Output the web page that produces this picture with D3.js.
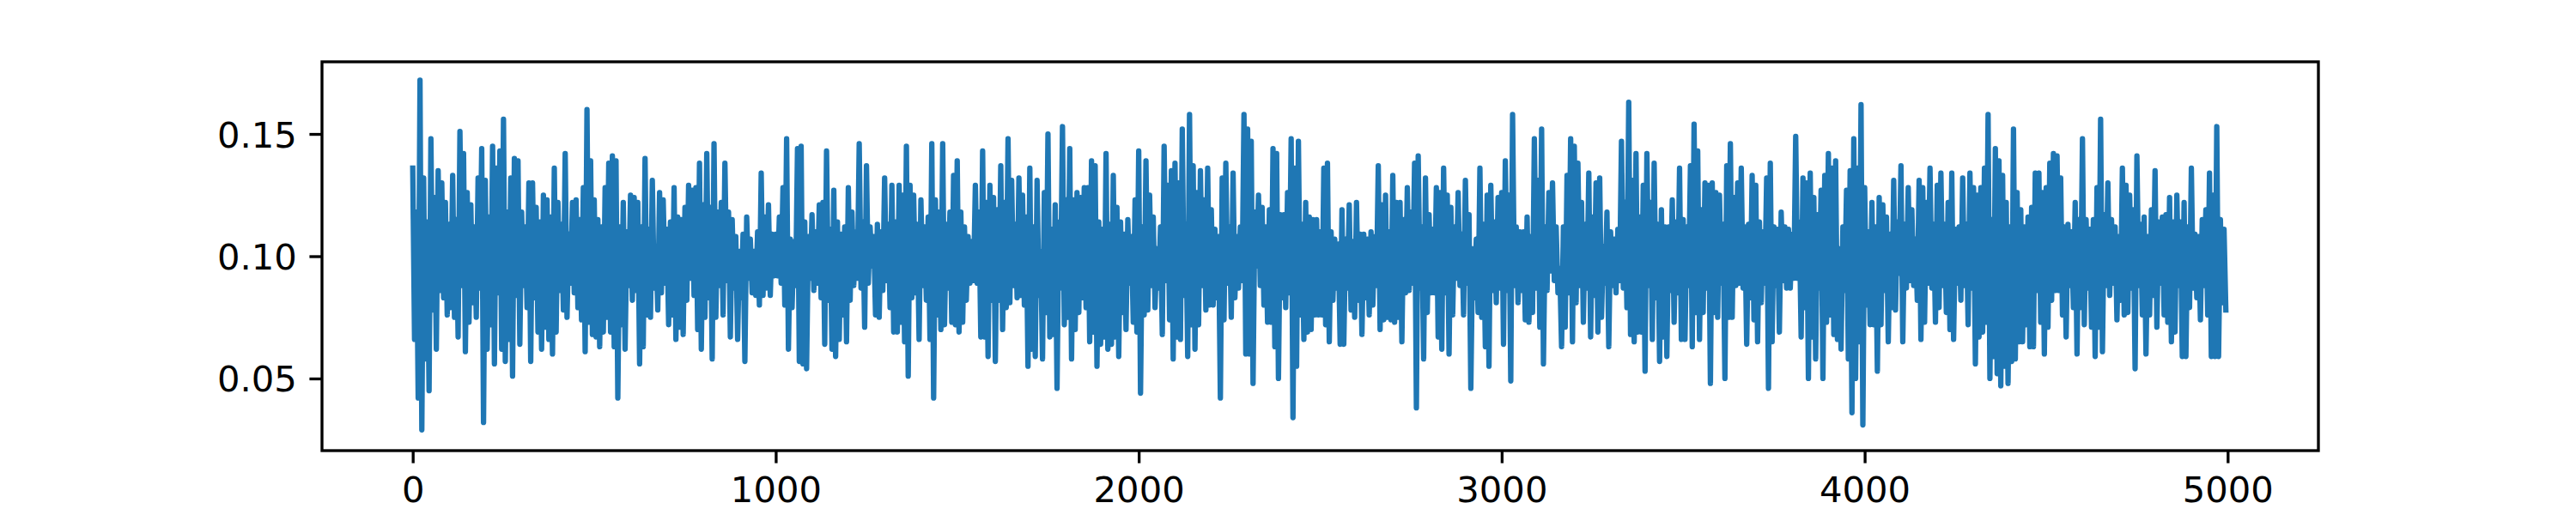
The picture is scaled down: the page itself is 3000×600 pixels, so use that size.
<!DOCTYPE html>
<html lang="en">
<head>
<meta charset="UTF-8">
<title>signal</title>
<script src="https://cdn.jsdelivr.net/npm/d3@7"></script>
<style>
  body { margin: 0; background: #fff; }
  text { font-family: "DejaVu Sans", sans-serif; }
</style>
</head>
<body>
<div id="chart"></div>
<script>
// local maxima, one every 10 samples (index 10*i)
const peaks = [
  .136,.118,.172,.132,.114,.148,.124,.135,.130,.122,.113,.133,.115,.151,.142,.126,.121,.112,.132,.144,.131,.116,.145,.136,.143,.156,.118,.132,.140,.139,.118,.112,.130,.130,.120,.114,.125,.123,.116,.136,.122,.113,.142,.109,.122,.123,.115,.128,.160,.139,
  .123,.115,.112,.128,.138,.141,.139,.112,.122,.110,.125,.124,.122,.112,.140,.111,.131,.104,.126,.123,.111,.114,.128,.116,.115,.120,.129,.127,.128,.138,.121,.142,.120,.146,.118,.122,.138,.118,.115,.108,.102,.109,.116,.107,.102,.110,.134,.116,.121,.109,
  .109,.116,.128,.148,.107,.106,.144,.145,.114,.108,.117,.110,.121,.122,.143,.111,.127,.114,.109,.112,.128,.118,.110,.146,.114,.137,.112,.108,.113,.110,.132,.113,.129,.114,.129,.125,.145,.129,.125,.113,.123,.112,.116,.146,.123,.118,.146,.113,.118,.133,
  .139,.118,.112,.108,.106,.129,.118,.143,.122,.129,.124,.119,.137,.122,.148,.131,.113,.132,.125,.116,.136,.112,.131,.102,.126,.150,.111,.121,.114,.153,.123,.144,.123,.126,.124,.128,.128,.139,.137,.114,.111,.142,.113,.133,.120,.114,.109,.115,.108,.123,
  .143,.112,.139,.125,.116,.103,.112,.145,.129,.135,.138,.130,.152,.113,.158,.137,.126,.135,.123,.136,.119,.111,.108,.132,.138,.112,.134,.108,.112,.158,.152,.147,.118,.125,.120,.112,.119,.144,.142,.117,.117,.126,.148,.136,.147,.113,.122,.116,.115,.115,
  .110,.136,.138,.110,.107,.105,.119,.107,.121,.106,.122,.109,.109,.107,.110,.108,.137,.121,.125,.110,.133,.122,.122,.115,.128,.118,.138,.141,.112,.132,.117,.111,.128,.126,.136,.125,.120,.112,.126,.109,.131,.117,.103,.107,.136,.113,.125,.129,.114,.124,
  .126,.139,.125,.158,.112,.110,.110,.116,.108,.148,.131,.152,.112,.126,.130,.112,.095,.112,.133,.148,.145,.138,.122,.113,.134,.116,.130,.132,.104,.118,.110,.107,.111,.147,.122,.163,.131,.142,.116,.129,.142,.122,.138,.113,.119,.112,.112,.123,.114,.136,
  .115,.112,.137,.154,.143,.119,.130,.129,.130,.126,.125,.113,.137,.146,.124,.130,.136,.112,.113,.133,.129,.114,.110,.132,.138,.112,.111,.118,.112,.111,.109,.149,.114,.132,.130,.134,.124,.117,.127,.133,.142,.136,.139,.103,.112,.127,.135,.148,.136,.162,
  .128,.110,.122,.112,.124,.121,.116,.109,.131,.114,.137,.113,.128,.119,.107,.131,.128,.122,.136,.113,.129,.134,.113,.122,.134,.111,.112,.132,.113,.134,.128,.125,.128,.136,.158,.115,.144,.139,.133,.122,.112,.152,.126,.119,.112,.116,.120,.134,.134,.126,
  .128,.138,.142,.141,.132,.112,.113,.110,.122,.115,.148,.115,.111,.115,.128,.156,.117,.130,.115,.112,.108,.136,.129,.125,.119,.141,.113,.116,.108,.119,.135,.114,.116,.117,.124,.114,.125,.114,.122,.112,.136,.109,.108,.115,.119,.134,.125,.153,.115,.111
];
// local minima in between (index 10*i + 5)
const troughs = [
  .066,.042,.029,.058,.045,.078,.062,.086,.083,.076,.079,.075,.067,.088,.061,.073,.081,.075,.087,.032,.062,.072,.056,.085,.062,.057,.066,.051,.084,.064,.088,.079,.057,.083,.069,.062,.071,.066,.060,.069,.086,.078,.075,.089,.085,.079,.074,.061,.073,.068,
  .067,.063,.069,.075,.069,.063,.042,.072,.062,.088,.082,.086,.056,.063,.076,.075,.087,.078,.085,.089,.072,.076,.066,.071,.068,.082,.091,.084,.070,.062,.075,.083,.058,.075,.088,.076,.090,.067,.087,.066,.083,.057,.091,.085,.084,.080,.084,.087,.084,.092,
  .092,.089,.080,.062,.079,.088,.057,.056,.054,.091,.086,.089,.083,.064,.082,.062,.059,.066,.076,.065,.082,.088,.091,.087,.071,.089,.096,.076,.075,.086,.090,.079,.069,.069,.073,.065,.051,.083,.085,.066,.088,.082,.066,.042,.076,.070,.072,.087,.073,.072,
  .069,.073,.082,.089,.090,.089,.067,.067,.059,.082,.057,.082,.070,.079,.081,.088,.083,.084,.080,.055,.062,.059,.084,.058,.077,.067,.068,.046,.087,.072,.075,.058,.070,.077,.083,.079,.065,.069,.055,.064,.067,.062,.064,.067,.059,.077,.070,.089,.073,.069,
  .044,.076,.078,.088,.079,.087,.068,.090,.074,.058,.067,.066,.084,.059,.072,.062,.072,.088,.078,.080,.080,.083,.042,.074,.089,.075,.083,.087,.090,.060,.060,.048,.096,.088,.080,.073,.073,.063,.050,.083,.079,.085,.034,.055,.076,.066,.069,.070,.076,.076,
  .076,.072,.065,.082,.087,.064,.064,.087,.078,.075,.082,.068,.083,.076,.080,.088,.070,.074,.075,.074,.073,.075,.065,.085,.086,.089,.038,.087,.058,.077,.085,.085,.067,.062,.085,.060,.076,.091,.088,.076,.089,.046,.083,.077,.075,.063,.055,.086,.081,.087,
  .064,.086,.049,.088,.081,.086,.074,.073,.077,.087,.071,.056,.086,.094,.090,.085,.063,.071,.085,.065,.081,.088,.073,.087,.067,.084,.069,.075,.089,.063,.088,.085,.090,.087,.079,.068,.065,.069,.069,.053,.088,.066,.083,.057,.067,.059,.086,.073,.085,.066,
  .066,.088,.063,.077,.066,.077,.087,.048,.077,.075,.089,.050,.075,.075,.088,.089,.087,.064,.083,.074,.065,.081,.089,.046,.065,.088,.069,.090,.087,.087,.091,.091,.067,.079,.050,.067,.058,.087,.050,.073,.076,.068,.066,.062,.086,.058,.036,.050,.065,.031,
  .080,.072,.072,.053,.072,.086,.065,.079,.078,.093,.065,.087,.090,.088,.082,.066,.073,.089,.087,.073,.079,.088,.077,.070,.066,.089,.082,.088,.072,.087,.056,.067,.069,.073,.050,.059,.052,.047,.055,.048,.057,.058,.065,.065,.072,.063,.063,.086,.073,.060,
  .071,.082,.086,.086,.076,.067,.088,.079,.060,.079,.072,.087,.071,.059,.071,.061,.088,.084,.089,.074,.082,.076,.077,.087,.054,.088,.076,.060,.076,.084,.071,.089,.076,.073,.065,.069,.088,.059,.059,.079,.087,.083,.074,.088,.076,.059,.059,.059,.081,.078
];
const xTicks = [0, 1000, 2000, 3000, 4000, 5000];
const yTicks = [0.05, 0.10, 0.15];

const width = 3000, height = 600;
const margin = {left: 375, right: 300, top: 72, bottom: 75};
const fs = 41.7;       // 10pt at 300 dpi
const tickLen = 14.6;  // 3.5pt
const tickPad = 14.6;
const lw = 3.33;       // 0.8pt spine / tick width

let series = [];
for (let i = 0; i < peaks.length; i++) {
    series.push({x: i * 10, y: peaks[i]});
    series.push({x: i * 10 + 5, y: troughs[i]});
}

const svg = d3.select('#chart').append('svg')
    .attr('width', width)
    .attr('height', height)
    .style('background', '#fff');

const x = d3.scaleLinear()
    .domain([-250, 5250])
    .range([margin.left, width - margin.right]);
const y = d3.scaleLinear()
    .domain([0.0205, 0.1795])
    .range([height - margin.bottom, margin.top]);

const line = d3.line()
    .x(d => x(d.x))
    .y(d => y(d.y));

svg.append('path')
    .datum(series)
    .attr('d', line)
    .attr('fill', 'none')
    .attr('stroke', '#1f77b4')
    .attr('stroke-width', 6.25)
    .attr('stroke-linejoin', 'round')
    .attr('stroke-linecap', 'square');

// spines
svg.append('rect')
    .attr('x', margin.left)
    .attr('y', margin.top)
    .attr('width', width - margin.left - margin.right)
    .attr('height', height - margin.top - margin.bottom)
    .attr('fill', 'none')
    .attr('stroke', '#000')
    .attr('stroke-width', lw);

// x axis
const xAxis = svg.append('g')
    .attr('transform', 'translate(0,' + (height - margin.bottom) + ')')
    .call(d3.axisBottom(x).tickValues(xTicks).tickFormat(d3.format('d'))
        .tickSize(tickLen).tickPadding(tickPad));
xAxis.select('.domain').remove();
xAxis.selectAll('line').attr('stroke', '#000').attr('stroke-width', lw);
xAxis.selectAll('text')
    .attr('font-size', fs)
    .attr('font-family', 'DejaVu Sans')
    .attr('fill', '#000')
    .attr('dy', null)
    .attr('y', tickLen + tickPad + 31);

// y axis
const yAxis = svg.append('g')
    .attr('transform', 'translate(' + margin.left + ',0)')
    .call(d3.axisLeft(y).tickValues(yTicks).tickFormat(d3.format('.2f'))
        .tickSize(tickLen).tickPadding(tickPad));
yAxis.select('.domain').remove();
yAxis.selectAll('line').attr('stroke', '#000').attr('stroke-width', lw);
yAxis.selectAll('text')
    .attr('font-size', fs)
    .attr('font-family', 'DejaVu Sans')
    .attr('fill', '#000')
    .attr('dy', '0.36em');
</script>
</body>
</html>
